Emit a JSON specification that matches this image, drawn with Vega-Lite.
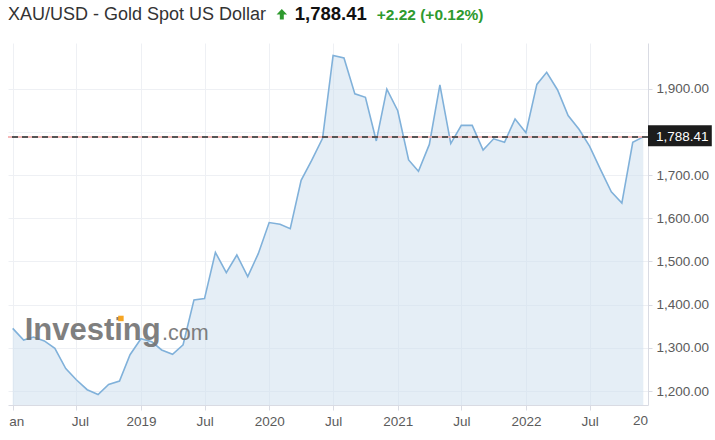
{
  "$schema": "https://vega.github.io/schema/vega-lite/v6.json",
  "width": 640,
  "height": 362,
  "autosize": {"type": "none"},
  "padding": {"left": 8, "top": 43, "right": 67, "bottom": 35},
  "background": "#ffffff",
  "config": {
    "view": {"stroke": null},
    "font": "Liberation Sans",
    "axis": {"labelFont": "Liberation Sans"}
  },
  "data": {"values": [
    {"date":"2018/01/01","price":1345},
    {"date":"2018/02/01","price":1318},
    {"date":"2018/03/01","price":1325},
    {"date":"2018/04/01","price":1316},
    {"date":"2018/05/01","price":1299},
    {"date":"2018/06/01","price":1252},
    {"date":"2018/07/01","price":1226},
    {"date":"2018/08/01","price":1203},
    {"date":"2018/09/01","price":1192},
    {"date":"2018/10/01","price":1215},
    {"date":"2018/11/01","price":1223},
    {"date":"2018/12/01","price":1284},
    {"date":"2019/01/01","price":1321},
    {"date":"2019/02/01","price":1314},
    {"date":"2019/03/01","price":1295},
    {"date":"2019/04/01","price":1285},
    {"date":"2019/05/01","price":1307},
    {"date":"2019/06/01","price":1411},
    {"date":"2019/07/01","price":1414},
    {"date":"2019/08/01","price":1521},
    {"date":"2019/09/01","price":1474},
    {"date":"2019/10/01","price":1515},
    {"date":"2019/11/01","price":1465},
    {"date":"2019/12/01","price":1518},
    {"date":"2020/01/01","price":1590},
    {"date":"2020/02/01","price":1586},
    {"date":"2020/03/01","price":1576},
    {"date":"2020/04/01","price":1688},
    {"date":"2020/05/01","price":1734},
    {"date":"2020/06/01","price":1785},
    {"date":"2020/07/01","price":1977},
    {"date":"2020/08/01","price":1971},
    {"date":"2020/09/01","price":1888},
    {"date":"2020/10/01","price":1880},
    {"date":"2020/11/01","price":1779},
    {"date":"2020/12/01","price":1899},
    {"date":"2021/01/01","price":1849},
    {"date":"2021/02/01","price":1735},
    {"date":"2021/03/01","price":1709},
    {"date":"2021/04/01","price":1771},
    {"date":"2021/05/01","price":1909},
    {"date":"2021/06/01","price":1773},
    {"date":"2021/07/01","price":1815},
    {"date":"2021/08/01","price":1815},
    {"date":"2021/09/01","price":1758},
    {"date":"2021/10/01","price":1784},
    {"date":"2021/11/01","price":1776},
    {"date":"2021/12/01","price":1830},
    {"date":"2022/01/01","price":1798},
    {"date":"2022/02/01","price":1910},
    {"date":"2022/03/01","price":1938},
    {"date":"2022/04/01","price":1897},
    {"date":"2022/05/01","price":1838},
    {"date":"2022/06/01","price":1806},
    {"date":"2022/07/01","price":1767},
    {"date":"2022/08/01","price":1713},
    {"date":"2022/09/01","price":1661},
    {"date":"2022/10/01","price":1635},
    {"date":"2022/11/01","price":1776},
    {"date":"2022/12/01","price":1788.41}
  ]},
  "layer": [
    {
      "mark": {"type": "area", "color": "#cfe0ef", "fillOpacity": 0.55, "clip": true},
      "encoding": {
        "x": {
          "field": "date", "type": "temporal",
          "scale": {"domain": [{"year": 2017, "month": 12, "date": 18, "hours": 14}, {"year": 2022, "month": 12, "date": 14, "hours": 10}], "nice": false},
          "axis": {
            "values": [
              {"year": 2018, "month": 1, "date": 1}, {"year": 2018, "month": 7, "date": 1},
              {"year": 2019, "month": 1, "date": 1}, {"year": 2019, "month": 7, "date": 1},
              {"year": 2020, "month": 1, "date": 1}, {"year": 2020, "month": 7, "date": 1},
              {"year": 2021, "month": 1, "date": 1}, {"year": 2021, "month": 7, "date": 1},
              {"year": 2022, "month": 1, "date": 1}, {"year": 2022, "month": 7, "date": 1}
            ],
            "labelExpr": "month(datum.value) == 6 ? 'Jul' : (year(datum.value) == 2018 ? 'an' : timeFormat(datum.value, '%Y'))",
            "title": null,
            "grid": true,
            "gridColor": "#eef0f4",
            "domainColor": "#d9dbe3",
            "tickColor": "#d9dbe3",
            "tickSize": 5,
            "labelFontSize": 13.5,
            "labelColor": "#5b5b5b",
            "labelPadding": 4,
            "labelFlush": false,
            "labelOverlap": false,
            "labelOffset": {"condition": {"test": "year(datum.value) == 2018", "value": 3.5}, "value": 0}
          }
        },
        "y": {
          "field": "price", "type": "quantitative",
          "scale": {"domain": [1167.6, 2005.8], "nice": false, "zero": false},
          "axis": {
            "orient": "right",
            "values": [1200, 1300, 1400, 1500, 1600, 1700, 1800, 1900],
            "format": ",.2f",
            "labelExpr": "datum.value == 1800 ? '' : datum.label",
            "title": null,
            "grid": true,
            "gridColor": "#eef0f4",
            "domainColor": "#d9dbe3",
            "tickColor": "#d9dbe3",
            "tickSize": 4,
            "labelPadding": 4,
            "labelFontSize": 13.5,
            "labelColor": "#5b5b5b"
          }
        }
      }
    },
    {
      "mark": {"type": "line", "color": "#80b1da", "strokeWidth": 1.6, "clip": true},
      "encoding": {
        "x": {"field": "date", "type": "temporal"},
        "y": {"field": "price", "type": "quantitative"}
      }
    },
    {
      "data": {"values": [{"t": "Investing"}]},
      "mark": {"type": "text", "align": "left", "baseline": "alphabetic", "font": "Liberation Sans", "fontWeight": "bold", "fontSize": 31, "color": "#727272", "opacity": 0.9, "clip": false},
      "encoding": {
        "x": {"datum": {"year": 2018, "month": 2, "date": 4}, "type": "temporal"},
        "y": {"datum": 1318, "type": "quantitative"},
        "text": {"field": "t"}
      }
    },
    {
      "data": {"values": [{"t": ".com"}]},
      "mark": {"type": "text", "align": "left", "baseline": "alphabetic", "font": "Liberation Sans", "fontWeight": "normal", "fontSize": 21.5, "color": "#727272", "opacity": 0.9, "clip": false},
      "encoding": {
        "x": {"datum": {"year": 2019, "month": 3, "date": 2}, "type": "temporal"},
        "y": {"datum": 1318, "type": "quantitative"},
        "text": {"field": "t"}
      }
    },
    {
      "data": {"values": [{"t": "dot"}]},
      "mark": {"type": "point", "shape": "square", "filled": true, "size": 30, "color": "#f6a523", "opacity": 1, "clip": false},
      "encoding": {
        "x": {"datum": {"year": 2018, "month": 11, "date": 5}, "type": "temporal"},
        "y": {"datum": 1368, "type": "quantitative"}
      }
    },
    {
      "data": {"values": [{"p": 1788.41}]},
      "mark": {"type": "rule", "color": "#f2a0a0", "strokeWidth": 1.5},
      "encoding": {"y": {"field": "p", "type": "quantitative"}}
    },
    {
      "data": {"values": [{"p": 1788.41}]},
      "mark": {"type": "rule", "color": "#555555", "strokeWidth": 2, "strokeDash": [6, 4]},
      "encoding": {"y": {"field": "p", "type": "quantitative"}}
    },
    {
      "data": {"values": [{"p": 1788.41}]},
      "mark": {"type": "rect", "color": "#1c1c1c", "clip": false},
      "encoding": {
        "x": {"datum": {"year": 2022, "month": 12, "date": 14, "hours": 10}, "type": "temporal"},
        "x2": {"datum": {"year": 2023, "month": 6, "date": 14}},
        "y": {"datum": 1815.5, "type": "quantitative"},
        "y2": {"datum": 1766.5}
      }
    },
    {
      "data": {"values": [{"label": "1,788.41"}]},
      "mark": {"type": "text", "align": "left", "baseline": "middle", "color": "#ffffff", "fontSize": 13.5, "font": "Liberation Sans", "clip": false},
      "encoding": {
        "x": {"datum": {"year": 2023, "month": 1, "date": 6}, "type": "temporal"},
        "y": {"datum": 1788.41, "type": "quantitative"},
        "text": {"field": "label"}
      }
    },
    {
      "data": {"values": [{"label": "20"}]},
      "mark": {"type": "text", "align": "right", "baseline": "top", "color": "#5b5b5b", "fontSize": 13.5, "font": "Liberation Sans", "clip": false},
      "encoding": {
        "x": {"datum": {"year": 2022, "month": 12, "date": 14, "hours": 10}, "type": "temporal"},
        "y": {"datum": 1146.76, "type": "quantitative"},
        "text": {"field": "label"}
      }
    },
    {
      "data": {"values": [{"label": "XAU/USD - Gold Spot US Dollar"}]},
      "mark": {"type": "text", "align": "left", "baseline": "alphabetic", "color": "#333333", "fontSize": 18, "fontWeight": "normal", "font": "Liberation Sans", "clip": false},
      "encoding": {
        "x": {"datum": {"year": 2017, "month": 12, "date": 18, "hours": 14}, "type": "temporal"},
        "y": {"datum": 2059.1, "type": "quantitative"},
        "text": {"field": "label"}
      }
    },
    {
      "data": {"values": [{"t": "up"}]},
      "mark": {"type": "point", "shape": "M0,-1L1,0.05L0.38,0.05L0.38,1L-0.38,1L-0.38,0.05L-1,0.05Z", "filled": true, "size": 110, "color": "#2e9a2e", "opacity": 1, "clip": false},
      "encoding": {
        "x": {"datum": {"year": 2020, "month": 2, "date": 6}, "type": "temporal"},
        "y": {"datum": 2072.2, "type": "quantitative"}
      }
    },
    {
      "data": {"values": [{"label": "1,788.41"}]},
      "mark": {"type": "text", "align": "left", "baseline": "alphabetic", "color": "#111111", "fontSize": 18.5, "fontWeight": "bold", "font": "Liberation Sans", "clip": false},
      "encoding": {
        "x": {"datum": {"year": 2020, "month": 3, "date": 14}, "type": "temporal"},
        "y": {"datum": 2059.1, "type": "quantitative"},
        "text": {"field": "label"}
      }
    },
    {
      "data": {"values": [{"label": "+2.22 (+0.12%)"}]},
      "mark": {"type": "text", "align": "left", "baseline": "alphabetic", "color": "#2e9a2e", "fontSize": 15.5, "fontWeight": "bold", "font": "Liberation Sans", "clip": false},
      "encoding": {
        "x": {"datum": {"year": 2020, "month": 11, "date": 2}, "type": "temporal"},
        "y": {"datum": 2059.1, "type": "quantitative"},
        "text": {"field": "label"}
      }
    }
  ]
}
